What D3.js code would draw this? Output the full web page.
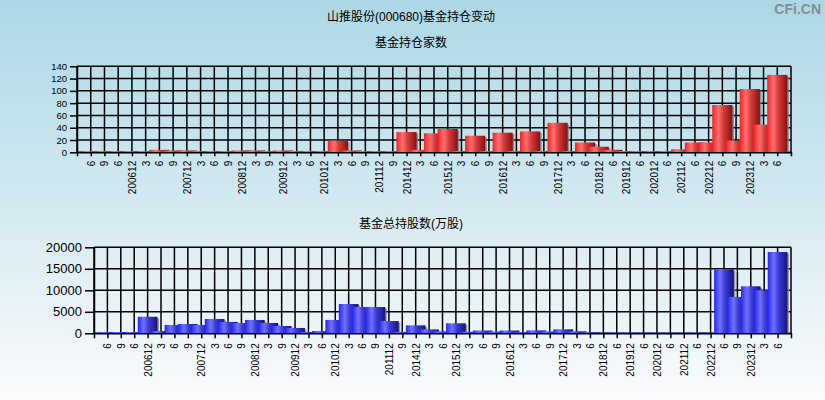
<!DOCTYPE html>
<html>
<head>
<meta charset="utf-8">
<script src="https://cdn.jsdelivr.net/npm/d3@7"></script>
<style>
    body { margin: 0; }
    text { font-family: "Liberation Sans", Arial, "Noto Sans CJK SC", sans-serif; fill: #000; }
</style>
</head>
<body>
<div id="chart"></div>
<script>
// report periods as printed under the bars
const periods = ["6", "9", "6", "200612", "3", "6", "9", "200712", "3", "6", "9", "200812", "3", "9", "200912",
    "3", "6", "201012", "3", "6", "9", "201112", "9", "201412", "3", "6", "201512", "3", "6", "9", "201612",
    "3", "6", "9", "201712", "3", "6", "201812", "6", "201912", "6", "202012", "6", "202112", "6", "202212",
    "6", "9", "202312", "3", "6"];

// number of funds holding
const fundCounts = [2, 2, 2, 2, 2, 4, 3, 3, 2, 2, 2, 3, 3, 2, 3,
    2, 2, 2, 19, 3, 2, 2, 2, 33, 4, 31, 38, 2, 27, 2, 32,
    2, 34, 2, 48, 2, 16, 9, 4, 2, 2, 2, 2, 5, 16, 16,
    77, 19, 103, 45, 126];

// total shares held by funds (10k shares)
const fundShares = [300, 300, 300, 3850, 540, 1950, 2170, 1950, 3330, 2640, 2400, 3100, 2400, 1700, 1240,
    300, 540, 3100, 6820, 6120, 6120, 2850, 320, 1850, 900, 450, 2330, 350, 650, 400, 650,
    250, 680, 450, 930, 470, 230, 150, 150, 150, 150, 150, 150, 150, 150, 150,
    14880, 8450, 10930, 10000, 18910];

const countTicks = [0, 20, 40, 60, 80, 100, 120, 140];
const shareTicks = [0, 5000, 10000, 15000, 20000];

const title = "山推股份(000680)基金持仓变动";
const subtitle1 = "基金持仓家数";
const subtitle2 = "基金总持股数(万股)";

const width = 825;
const height = 400;

const svg = d3.select("#chart")
    .append("svg")
    .attr("width", width)
    .attr("height", height);

const defs = svg.append("defs");

const bg = defs.append("linearGradient")
    .attr("id", "bg")
    .attr("x1", 0).attr("y1", 0).attr("x2", 0).attr("y2", 1);
bg.append("stop").attr("offset", "0%").attr("stop-color", "#acd7e5");
bg.append("stop").attr("offset", "100%").attr("stop-color", "#fbfbfc");

function barGradient(id, light, bright, mid, dark) {
    const g = defs.append("linearGradient")
        .attr("id", id)
        .attr("x1", 0).attr("y1", 0).attr("x2", 1).attr("y2", 0);
    g.append("stop").attr("offset", "0%").attr("stop-color", bright);
    g.append("stop").attr("offset", "30%").attr("stop-color", light);
    g.append("stop").attr("offset", "55%").attr("stop-color", mid);
    g.append("stop").attr("offset", "100%").attr("stop-color", dark);
}
barGradient("red", "#ff7272", "#ff1c1c", "#d83a3a", "#7e1414");
barGradient("blue", "#7272ff", "#2424ff", "#3a3ad8", "#161670");

svg.append("rect")
    .attr("width", width)
    .attr("height", height)
    .attr("fill", "url(#bg)");

svg.append("text")
    .attr("x", width - 4)
    .attr("y", 9)
    .attr("dy", "0.35em")
    .attr("text-anchor", "end")
    .style("font-size", "14px")
    .style("font-weight", 700)
    .style("fill", "#858d92")
    .text("CFi.CN");

const headings = [
    { text: title, y: 17 },
    { text: subtitle1, y: 43 },
    { text: subtitle2, y: 224 }
];

svg.selectAll(".heading")
    .data(headings)
    .join("text")
        .attr("class", "heading")
        .attr("x", 411)
        .attr("y", d => d.y)
        .attr("dy", "0.35em")
        .attr("text-anchor", "middle")
        .style("font-size", "12px")
        .text(d => d.text);

function drawPanel(opt) {
    const g = svg.append("g");
    const idx = d3.range(periods.length);

    const xScale = d3.scalePoint()
        .domain(idx)
        .range(opt.xRange)
        .padding(1);

    const yScale = d3.scaleLinear()
        .domain([0, opt.yTicks[opt.yTicks.length - 1]])
        .range(opt.yRange);

    const [x0, x1] = opt.xRange;
    const [yb, yt] = opt.yRange;

    // grid
    g.selectAll(".hgrid")
        .data(opt.yTicks)
        .join("line")
            .attr("x1", x0).attr("x2", x1)
            .attr("y1", d => yScale(d)).attr("y2", d => yScale(d))
            .attr("stroke", "#000").attr("stroke-width", 1.5);

    g.selectAll(".vgrid")
        .data(idx.map(i => xScale(i)).concat([x0, x1]))
        .join("line")
            .attr("x1", d => d).attr("x2", d => d)
            .attr("y1", yt).attr("y2", yb)
            .attr("stroke", "#000").attr("stroke-width", 1.5);

    // bars, drawn left to right so later ones overlap
    const bw = xScale.step() * 1.47;
    const bars = g.selectAll(".bar")
        .data(opt.values)
        .join("g")
            .attr("class", "bar");

    bars.append("rect")
        .attr("x", (d, i) => xScale(i) - bw / 2 + 1.5)
        .attr("y", d => Math.min(yScale(d) + 1.5, yb))
        .attr("width", bw)
        .attr("height", d => Math.max(0, yb - yScale(d) - 1.5))
        .attr("fill", "#7a7f84")
        .attr("opacity", 0.8);

    bars.append("rect")
        .attr("x", (d, i) => xScale(i) - bw / 2)
        .attr("y", d => yScale(d))
        .attr("width", bw)
        .attr("height", d => yb - yScale(d))
        .attr("fill", `url(#${opt.grad})`);

    // axes
    const yAxis = g.append("g")
        .attr("transform", `translate(${x0},0)`)
        .call(d3.axisLeft(yScale)
            .tickValues(opt.yTicks)
            .tickFormat(d3.format("d"))
            .tickSize(opt.yTickSize)
            .tickSizeOuter(0)
            .tickPadding(opt.yPad));

    yAxis.selectAll("text").style("font-size", opt.yFont);

    const xAxis = g.append("g")
        .attr("transform", `translate(0,${yb})`)
        .call(d3.axisBottom(xScale)
            .tickValues(idx)
            .tickFormat(i => periods[i])
            .tickSize(opt.xTickSize)
            .tickSizeOuter(opt.xTickSize));

    xAxis.selectAll("text")
        .style("font-size", "10px")
        .attr("text-anchor", "end")
        .attr("transform", "rotate(-90)")
        .attr("x", -opt.xLabelGap)
        .attr("y", 0)
        .attr("dy", "0.35em");

    g.selectAll(".domain, .tick line")
        .attr("stroke", "#000")
        .attr("stroke-width", 1.5);
}

drawPanel({
    values: fundCounts,
    xRange: [77, 791],
    yRange: [152.3, 66.3],
    yTicks: countTicks,
    yFont: "9.5px",
    yTickSize: 7,
    yPad: 3,
    xTickSize: 4,
    xLabelGap: 8.5,
    grad: "red"
});

drawPanel({
    values: fundShares,
    xRange: [94, 791],
    yRange: [333.3, 247.3],
    yTicks: shareTicks,
    yFont: "13px",
    yTickSize: 9,
    yPad: 3,
    xTickSize: 5,
    xLabelGap: 10,
    grad: "blue"
});
</script>
</body>
</html>
